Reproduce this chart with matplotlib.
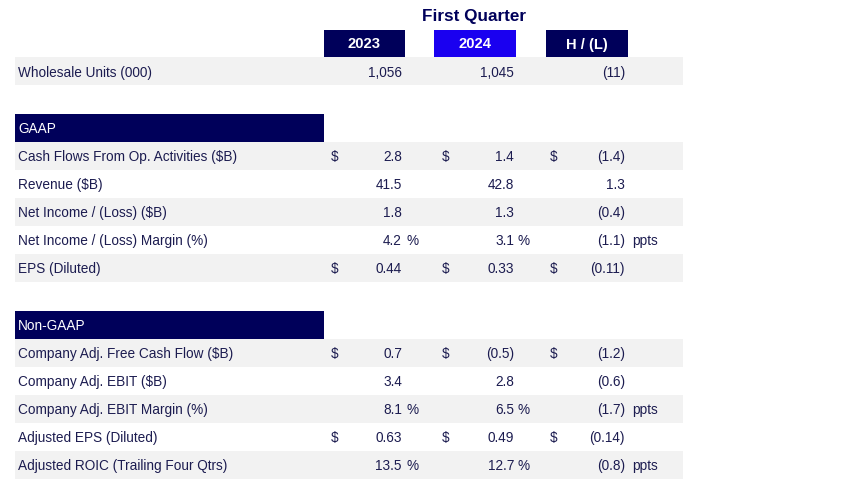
import matplotlib
matplotlib.use("Agg")
import matplotlib.pyplot as plt
from matplotlib.patches import Rectangle

plt.rcParams['font.family'] = ['Liberation Sans', 'DejaVu Sans']

title = "First Quarter"
col_headers = ["2023", "2024", "H / (L)"]

units_label = "Wholesale Units (000)"
units_vals = ["1,056", "1,045", "(11)"]

gaap_title = "GAAP"
gaap_labels = ["Cash Flows From Op. Activities ($B)", "Revenue ($B)",
               "Net Income / (Loss) ($B)", "Net Income / (Loss) Margin (%)",
               "EPS (Diluted)"]
gaap_2023 = ["2.8", "41.5", "1.8", "4.2", "0.44"]
gaap_2024 = ["1.4", "42.8", "1.3", "3.1", "0.33"]
gaap_hl = ["(1.4)", "1.3", "(0.4)", "(1.1)", "(0.11)"]
gaap_dollar = [True, False, False, False, True]
gaap_pct = [False, False, False, True, False]

ngaap_title = "Non-GAAP"
ngaap_labels = ["Company Adj. Free Cash Flow ($B)", "Company Adj. EBIT ($B)",
                "Company Adj. EBIT Margin (%)", "Adjusted EPS (Diluted)",
                "Adjusted ROIC (Trailing Four Qtrs)"]
ngaap_2023 = ["0.7", "3.4", "8.1", "0.63", "13.5"]
ngaap_2024 = ["(0.5)", "2.8", "6.5", "0.49", "12.7"]
ngaap_hl = ["(1.2)", "(0.6)", "(1.7)", "(0.14)", "(0.8)"]
ngaap_dollar = [True, False, False, True, False]
ngaap_pct = [False, False, True, False, True]

NAVY = "#00005a"
BLUE = "#1a00f0"
SHADE = "#f2f2f2"
TXT = "#1c1c50"
FS = 9.85
DY = 1.2

fig = plt.figure(figsize=(8.41, 4.86), dpi=100)
ax = fig.add_axes([0, 0, 1, 1])
ax.set_xlim(0, 841)
ax.set_ylim(486, 0)
ax.axis("off")

# title & column headers
ax.text(474, 16.5, title, ha="center", va="center", fontsize=12.3,
        fontweight="bold", color=NAVY)
hdr_x = [(324, 405), (434, 516), (546, 628)]
hdr_c = [NAVY, BLUE, NAVY]
for (x0, x1), c, t in zip(hdr_x, hdr_c, col_headers):
    ax.add_patch(Rectangle((x0, 30), x1 - x0, 27.5, color=c, lw=0))
    ax.text((x0 + x1) / 2, 44.5, t, ha="center", va="center", fontsize=10.6,
            fontweight="bold", color="white")

ROW_H = 28
LEFT, RIGHT = 15, 683
dollar_x = [335, 446, 554]
val_x = [402, 514, 625]
pct_x = [407, 518]


def draw_row(yc, label, vals, shaded, dollar=False, pct=False):
    if shaded:
        ax.add_patch(Rectangle((LEFT, yc - ROW_H / 2), RIGHT - LEFT, ROW_H,
                               color=SHADE, lw=0, zorder=0))
    yt = yc + DY
    ax.text(18, yt, label, ha="left", va="center", fontsize=FS, color=TXT)
    for i, v in enumerate(vals):
        ax.text(val_x[i], yt, v, ha="right", va="center", fontsize=FS, color=TXT)
        if dollar:
            ax.text(dollar_x[i], yt, "$", ha="center", va="center",
                    fontsize=FS, color=TXT)
    if pct:
        for px in pct_x:
            ax.text(px, yt, "%", ha="left", va="center", fontsize=FS, color=TXT)
        ax.text(632, yt, "ppts", ha="left", va="center", fontsize=FS, color=TXT)


def draw_section(yc_head, title_s, labels, v1, v2, v3, dol, pct):
    ax.add_patch(Rectangle((LEFT, yc_head - ROW_H / 2), 324 - LEFT, ROW_H,
                           color=NAVY, lw=0))
    ax.text(18, yc_head + DY, title_s, ha="left", va="center", fontsize=FS,
            color="white")
    for i, lab in enumerate(labels):
        yc = yc_head + ROW_H * (i + 1)
        draw_row(yc, lab, [v1[i], v2[i], v3[i]], i % 2 == 0, dol[i], pct[i])


draw_row(71.5, units_label, units_vals, True)
draw_section(128, gaap_title, gaap_labels, gaap_2023, gaap_2024, gaap_hl,
             gaap_dollar, gaap_pct)
draw_section(325, ngaap_title, ngaap_labels, ngaap_2023, ngaap_2024, ngaap_hl,
             ngaap_dollar, ngaap_pct)

fig.savefig("out.png", dpi=100)
